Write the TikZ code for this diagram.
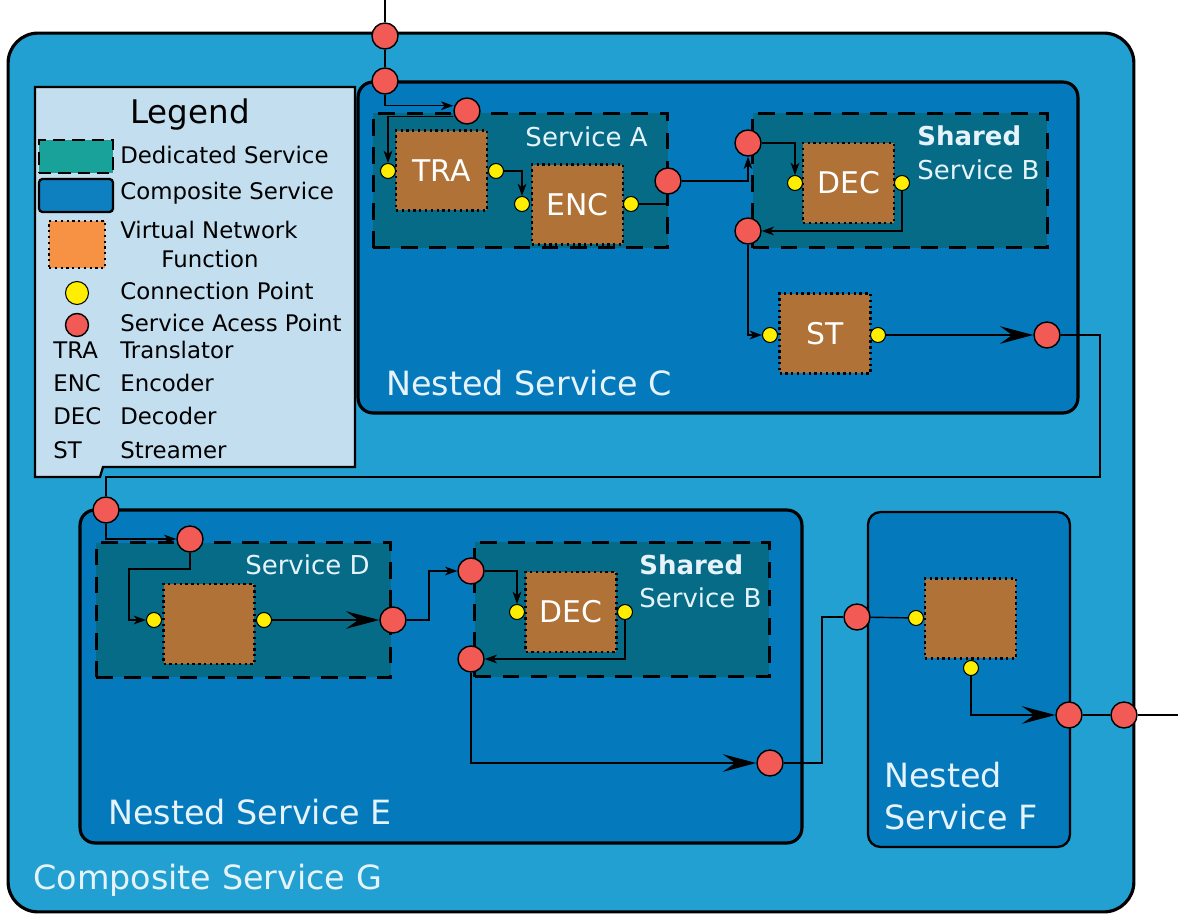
\documentclass[tikz,border=0pt]{standalone}
\usepackage{fontspec}
\setmainfont{DejaVu Sans}
\usetikzlibrary{arrows.meta}

\definecolor{gblue}{HTML}{22A0D2}
\definecolor{nblue}{HTML}{0479BC}
\definecolor{dteal}{HTML}{066B87}
\definecolor{vbrown}{HTML}{B07236}
\definecolor{legfill}{HTML}{C3DEEE}
\definecolor{sapred}{HTML}{F25A55}
\definecolor{cpyellow}{HTML}{FFEE00}
\definecolor{swteal}{HTML}{18A29A}
\definecolor{swblue}{HTML}{0E80C0}
\definecolor{sworange}{HTML}{F79244}
\definecolor{lbltext}{HTML}{E6F3FA}

\begin{document}
\begin{tikzpicture}[x=0.02cm,y=-0.02cm,
    composite/.style={draw,line width=1.8pt,fill=nblue,rounded corners=0.3cm,inner sep=0pt},
    dedicated/.style={draw,line width=1.7pt,dash pattern=on 9.5pt off 6.5pt,fill=dteal,inner sep=0pt,minimum width=5.9cm,minimum height=2.7cm},
    vnf/.style={draw,dotted,line width=1.3pt,fill=vbrown,text=white,font=\fontsize{17}{20}\selectfont,minimum width=1.82cm,minimum height=1.6cm,inner sep=0pt},
    sap/.style={circle,draw,line width=0.8pt,fill=sapred,minimum size=0.52cm,inner sep=0pt},
    cp/.style={circle,draw,line width=0.6pt,fill=cpyellow,minimum size=0.3cm,inner sep=0pt},
    wire/.style={line width=0.8pt},
    tip/.style={-{Stealth[length=7pt,width=5pt,inset=2pt]}},
    bigtip/.style={-{Stealth[length=19pt,width=10pt,inset=7pt]}},
    lbl/.style={text=lbltext,inner sep=0pt,font=\fontsize{14.8}{17}\selectfont},
    biglbl/.style={text=lbltext,inner sep=0pt,anchor=west,font=\fontsize{19}{22}\selectfont},
    legtext/.style={anchor=west,inner sep=0pt,text height=9.5pt,text depth=2.5pt,font=\fontsize{13}{15}\selectfont}]
    \useasboundingbox (0,0) rectangle (1178,916);

    % composite service G
    \node (g) at (571,472.5) [draw,line width=1.8pt,fill=gblue,rounded corners=0.6cm,minimum width=22.52cm,minimum height=17.58cm] {};
    \node (lblg) at (33,880) [biglbl] {Composite Service G};

    % legend
    \draw[line width=1.3pt,fill=legfill] (35,87) -- (355,87) -- (355,467) -- (103,467) -- (100,477) -- (35,477) -- cycle;
    \node (legend) at (190,115) [font=\fontsize{18.5}{21}\selectfont] {Legend};
    \node (swded) at (76,156.5) [draw,line width=1.5pt,dash pattern=on 7pt off 4pt,fill=swteal,minimum width=1.48cm,minimum height=0.66cm] {};
    \node (swcomp) at (76,195.5) [draw,line width=1.3pt,fill=swblue,rounded corners=2pt,minimum width=1.48cm,minimum height=0.66cm] {};
    \node (swvnf) at (77,244.5) [draw,dotted,line width=1.3pt,fill=sworange,minimum width=1.12cm,minimum height=0.94cm] {};
    \node (swcp) at (77,293) [cp,minimum size=0.46cm] {};
    \node (swsap) at (77,325) [sap,minimum size=0.46cm] {};
    \node (tded) at (120,157) [legtext] {Dedicated Service};
    \node (tcomp) at (120,193) [legtext] {Composite Service};
    \node (tvnf) at (120,232) [legtext] {Virtual Network};
    \node (tfun) at (210,261) [legtext,anchor=center] {Function};
    \node (tcp) at (120,293) [legtext] {Connection Point};
    \node (tsap) at (120,325) [legtext] {Service Acess Point};
    \node (atra) at (53,352) [legtext] {TRA};
    \node (ttra) at (120,352) [legtext] {Translator};
    \node (aenc) at (53,385) [legtext] {ENC};
    \node (tenc) at (120,385) [legtext] {Encoder};
    \node (adec) at (53,418) [legtext] {DEC};
    \node (tdec) at (120,418) [legtext] {Decoder};
    \node (ast) at (53,452) [legtext] {ST};
    \node (tst) at (120,452) [legtext] {Streamer};

    % nested services
    \node (c) at (718,247.5) [composite,minimum width=14.4cm,minimum height=6.62cm] {};
    \node (lblc) at (386,383) [biglbl] {Nested Service C};
    \node (e) at (441,676.5) [composite,minimum width=14.44cm,minimum height=6.66cm] {};
    \node (lble) at (108,812) [biglbl] {Nested Service E};
    \node (f) at (969,679.5) [composite,line width=1.3pt,rounded corners=0.25cm,minimum width=4.04cm,minimum height=6.7cm] {};
    \node (lblf1) at (884,775) [biglbl] {Nested};
    \node (lblf2) at (884,817) [biglbl] {Service F};

    % dedicated services
    \node (a) at (520.5,180.5) [dedicated] {};
    \node (lbla) at (648,137) [lbl,anchor=east] {Service A};
    \node (b) at (900,180.5) [dedicated] {};
    \node (lblb1) at (917,136) [lbl,anchor=west,font=\fontsize{14.8}{17}\selectfont\bfseries] {Shared};
    \node (lblb2) at (917,170) [lbl,anchor=west] {Service B};
    \node (d) at (243.5,610) [dedicated] {};
    \node (lbld) at (370,565) [lbl,anchor=east] {Service D};
    \node (b2) at (622,609.5) [dedicated] {};
    \node (lblb3) at (639,565) [lbl,anchor=west,font=\fontsize{14.8}{17}\selectfont\bfseries] {Shared};
    \node (lblb4) at (639,598) [lbl,anchor=west] {Service B};

    % network functions
    \node (tra) at (441.5,170.5) [vnf] {TRA};
    \node (enc) at (577.5,204.5) [vnf] {ENC};
    \node (dec) at (848.5,183) [vnf] {DEC};
    \node (st) at (825,333.5) [vnf] {ST};
    \node (vd) at (209,624) [vnf] {};
    \node (dec2) at (571,612) [vnf] {DEC};
    \node (vf) at (970.5,618.5) [vnf] {};

    % connection points
    \node (tra_l) at (388,171) [cp] {};
    \node (tra_r) at (496,171) [cp] {};
    \node (enc_l) at (522,204) [cp] {};
    \node (enc_r) at (631,204) [cp] {};
    \node (dec_l) at (795,183) [cp] {};
    \node (dec_r) at (902,183) [cp] {};
    \node (st_l) at (770,335) [cp] {};
    \node (st_r) at (878,335) [cp] {};
    \node (vd_l) at (154,620) [cp] {};
    \node (vd_r) at (264,620) [cp] {};
    \node (dec2_l) at (517,612) [cp] {};
    \node (dec2_r) at (625,612) [cp] {};
    \node (vf_l) at (916,618) [cp] {};
    \node (vf_b) at (971,668) [cp] {};

    % service access points
    \node (g_in) at (385,36) [sap] {};
    \node (c_in) at (385,81) [sap] {};
    \node (a_in) at (467,111) [sap] {};
    \node (a_out) at (668,181) [sap] {};
    \node (b_in) at (748,143) [sap] {};
    \node (b_out) at (748,231) [sap] {};
    \node (c_out) at (1047,335) [sap] {};
    \node (e_in) at (106,510) [sap] {};
    \node (d_in) at (190,539) [sap] {};
    \node (d_out) at (393,620) [sap] {};
    \node (b2_in) at (471,571) [sap] {};
    \node (b2_out) at (471,659) [sap] {};
    \node (e_out) at (770,763) [sap] {};
    \node (f_in) at (857,617) [sap] {};
    \node (f_out) at (1069,715) [sap] {};
    \node (g_out) at (1124,715) [sap] {};
    \coordinate (top) at (385,0);
    \coordinate (turn) at (1100,477);
    \coordinate (out) at (1178,715);

    % wiring
    \draw[wire] (top) -- (g_in) (g_in) -- (c_in);
    \draw[wire,tip] (c_in) |- ([yshift=3pt]a_in.west);
    \draw[wire,tip] ([yshift=-3pt]a_in.west) -| (tra_l);
    \draw[wire,tip] (tra_r) -| (enc_l);
    \draw[line width=1.6pt] (enc_r) -| (a_out);
    \draw[wire,tip] (a_out) -| (b_in);
    \draw[wire,tip] (b_in) -| (dec_l);
    \draw[wire,tip] (dec_r) |- (b_out);
    \draw[wire,tip] (b_out) |- (st_l);
    \draw[wire,bigtip] (st_r) -- (c_out);
    \draw[wire] (c_out) -| (turn) -| (e_in);
    \draw[wire,tip] (e_in) |- (d_in);
    \draw[wire,tip] (d_in) |- ++(-61,30) |- (vd_l);
    \draw[line width=1.1pt,bigtip] (vd_r) -- (d_out);
    \draw[wire,tip] (d_out) -- ++(36,0) |- (b2_in);
    \draw[wire,tip] (b2_in) -| (dec2_l);
    \draw[wire,tip] (dec2_r) |- (b2_out);
    \draw[line width=1.1pt,bigtip] (b2_out) |- (e_out);
    \draw[wire] (e_out) -- ++(52,0) |- (f_in);
    \draw[wire] (f_in) -- (vf_l);
    \draw[line width=1.6pt,bigtip] (vf_b) |- (f_out);
    \draw[wire] (f_out) -- (g_out) (g_out) -- (out);
\end{tikzpicture}
\end{document}
